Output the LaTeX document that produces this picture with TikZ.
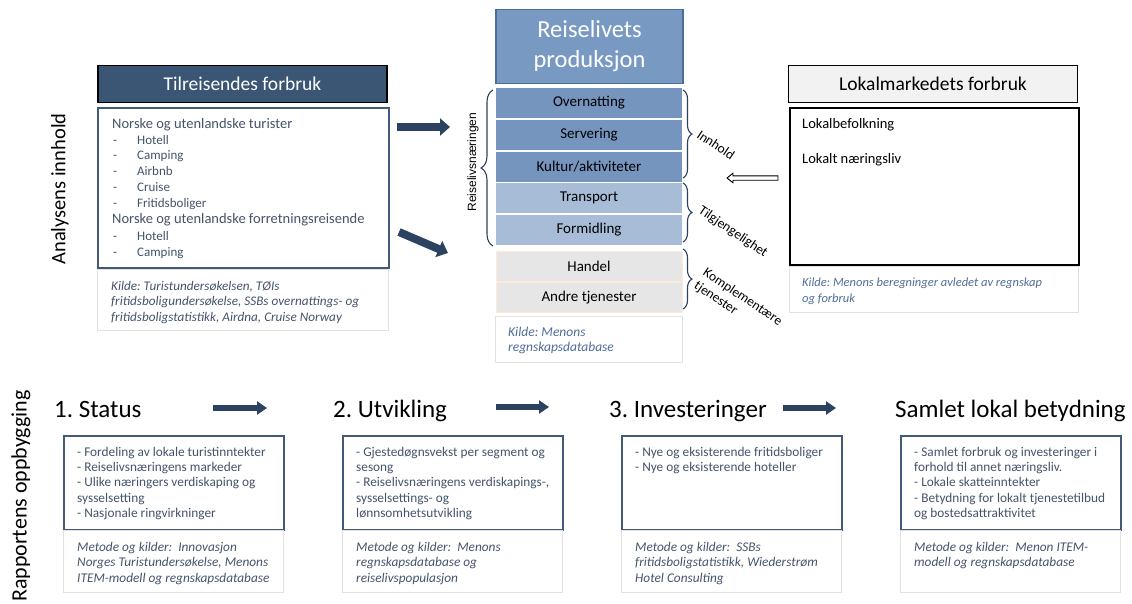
\documentclass[tikz,border=0pt]{standalone}
\usepackage{fontspec}
\setmainfont{Carlito}
\newfontfamily\arialfont{Liberation Sans}
\usetikzlibrary{arrows.meta,decorations.pathreplacing}
\frenchspacing

\definecolor{hdrdark}{HTML}{3B5675}
\definecolor{boxblue}{HTML}{42597A}
\definecolor{txtgray}{HTML}{44546A}
\definecolor{navy}{HTML}{2B4260}
\definecolor{prodhdr}{HTML}{789AC2}
\definecolor{prodline}{HTML}{4C6D96}
\definecolor{rowdark}{HTML}{7595BF}
\definecolor{rowlight}{HTML}{A6BCD7}
\definecolor{rowgray}{HTML}{E6E6E6}
\definecolor{rowgrayline}{HTML}{FCEADB}
\definecolor{kildeline}{HTML}{E2E2E2}
\definecolor{kildeblue}{HTML}{4E6D98}
\definecolor{lokalhdr}{HTML}{F2F2F2}

\newcommand{\fsz}[2]{\fontsize{#1}{#2}\selectfont}

\begin{document}
\begin{tikzpicture}[x=1pt,y=-1pt,
  hdr/.style={draw=black, line width=1.8pt, minimum width=289pt, minimum height=37pt, inner sep=0, font=\fsz{19.5}{23}},
  mainbox/.style={draw=boxblue, line width=1.5pt, fill=white, anchor=north west, inner sep=0},
  kildebox/.style={draw=kildeline, line width=0.8pt, anchor=north west, inner sep=0},
  prodrow/.style={minimum width=186pt, minimum height=30pt, inner sep=0, font=\fsz{15}{18}},
  txt/.style={anchor=base west, inner sep=0, text=txtgray},
  blocktxt/.style={anchor=north west, inner sep=0, align=left, text=txtgray},
  bighdr/.style={anchor=base west, inner sep=0, font=\fsz{25}{29}},
  pil/.style={draw=navy, line width=8pt, -{Triangle[length=10pt,width=17pt]}},
  smallpil/.style={draw=navy, line width=6pt, -{Triangle[length=10pt,width=13pt]}},
  klamme/.style={decorate, decoration={brace, amplitude=#1}, draw=navy, line width=1.1pt},
  bracelbl/.style={rotate=-34, inner sep=0, font=\fsz{13.5}{16}}]
\useasboundingbox (0,0) rectangle (1132,603);

% side titles
\node[rotate=90, font=\fsz{20.5}{24}] (analyse) at (60,189) {Analysens innhold};
\node[rotate=90, font=\fsz{22}{26}] (rapport) at (21,496) {Rapportens oppbygging};

% tilreisendes forbruk
\node[hdr, fill=hdrdark, text=white] (tilhdr) at (242.5,84) {Tilreisendes forbruk};
\node[mainbox, minimum width=291pt, minimum height=160pt] (tilbox) at (97,107) {};
\node[txt, font=\fsz{14.5}{17}] (turist) at (112,128.5) {Norske og utenlandske turister};
\foreach \lbl [count=\i] in {Hotell,Camping,Airbnb,Cruise,Fritidsboliger}
  \node[txt, font=\fsz{13}{15}] at (113,{128.5+15.7*\i}) {\makebox[24pt][l]{-}\lbl};
\node[txt, font=\fsz{14.5}{17}] (forretning) at (112,223.5) {Norske og utenlandske forretningsreisende};
\foreach \lbl [count=\i] in {Hotell,Camping}
  \node[txt, font=\fsz{13}{15}] at (113,{224.5+16*\i}) {\makebox[24pt][l]{-}\lbl};
\node[kildebox, minimum width=291pt, minimum height=61pt] (tilkilde) at (97,269) {};
\node[blocktxt, font=\itshape\fsz{13.2}{15.5}] at (111,280.8)
  {Kilde: Turistundersøkelsen, TØIs\\fritidsboligundersøkelse, SSBs overnattings- og\\fritidsboligstatistikk, Airdna, Cruise Norway};

% reiselivets produksjon
\node[draw=prodline, line width=1.2pt, fill=prodhdr, text=white, minimum width=187pt, minimum height=74pt,
  align=center, font=\fsz{24.5}{30}] (prodhdr) at (589.5,46.5) {Reiselivets\\produksjon};
\foreach \navn/\y/\farge [count=\i] in {Overnatting/103/rowdark, Servering/135/rowdark,
  {Kultur/aktiviteter}/166.5/rowdark, Transport/198/rowlight, Formidling/229.5/rowlight}
  \node[prodrow, fill=\farge] (rad\i) at (589,\y) {\navn};
\node[prodrow, fill=rowgray, draw=rowgrayline, line width=0.8pt] (handel) at (589,266.5) {Handel};
\node[prodrow, fill=rowgray, draw=rowgrayline, line width=0.8pt] (andre) at (589,297.5) {Andre tjenester};
\node[kildebox, minimum width=187pt, minimum height=46pt] (prodkilde) at (495,316) {};
\node[blocktxt, text=kildeblue, font=\itshape\fsz{13.5}{15.5}] at (508,326.5) {Kilde: Menons\\regnskapsdatabase};

% klammer
\draw[klamme=12pt] (493,246) -- (493,90);
\node[rotate=90, inner sep=0, font=\arialfont\fsz{12}{14}] (naeringlbl) at (473,162) {Reiselivsnæringen};
\draw[klamme=9pt] (683,90) -- (683,178);
\draw[klamme=9pt] (683,183) -- (683,242);
\draw[klamme=9pt] (683,249) -- (683,309);
\node[bracelbl] (innhold) at (716,145) {Innhold};
\node[bracelbl] (tilgj) at (733,232) {Tilgjengelighet};
\node[bracelbl, align=left] (kompl) at (738,304) {Komplementære\\tjenester};

% lokalmarkedets forbruk
\node[hdr, fill=lokalhdr] (lokhdr) at (933,84) {Lokalmarkedets forbruk};
\node[mainbox, draw=black, minimum width=289pt, minimum height=157pt] (lokbox) at (789,107) {};
\node[txt, text=black, font=\fsz{14.5}{17}] (lokbef) at (802,128) {Lokalbefolkning};
\node[txt, text=black, font=\fsz{14.5}{17}] (lokner) at (802,163.5) {Lokalt næringsliv};
\node[kildebox, minimum width=289pt, minimum height=46pt] (lokkilde) at (789,266) {};
\node[blocktxt, text=kildeblue, font=\itshape\fsz{12.5}{16}] at (802,277.2)
  {Kilde: Menons beregninger avledet av regnskap\\og forbruk};

% piler
\coordinate (p1a) at (397,127);
\coordinate (p1b) at (450,127);
\coordinate (p2a) at (399,232);
\coordinate (p2b) at (448,253);
\draw[pil] (p1a) -- (p1b);
\draw[pil] (p2a) -- (p2b);
\draw[line width=0.9pt, fill=white] (778,175.8) -- (733,175.8) -- (733,173.2) -- (727,178)
  -- (733,182.8) -- (733,180.2) -- (778,180.2) -- cycle;

% rapportens oppbygging
\node[bighdr] (status) at (54,417) {1. Status};
\node[bighdr] (utvikling) at (333,417) {2. Utvikling};
\node[bighdr] (invest) at (609,417) {3. Investeringer};
\node[bighdr] (samlet) at (895,417) {Samlet lokal betydning};
\coordinate (s1a) at (213,408);
\coordinate (s1b) at (267,408);
\coordinate (s2a) at (496,407);
\coordinate (s2b) at (549,407);
\coordinate (s3a) at (783,408);
\coordinate (s3b) at (836,408);
\draw[smallpil] (s1a) -- (s1b);
\draw[smallpil] (s2a) -- (s2b);
\draw[smallpil] (s3a) -- (s3b);

\foreach \x [count=\i] in {63,342,621,900} {
  \node[mainbox, minimum width=220pt, minimum height=94pt] (boks\i) at (\x,435) {};
  \node[kildebox, minimum width=220pt, minimum height=62pt] (kilde\i) at (\x,530) {};
}
\node[blocktxt, font=\fsz{13.3}{15.4}] at (77,446.7)
  {- Fordeling av lokale turistinntekter\\- Reiselivsnæringens markeder\\- Ulike næringers verdiskaping og\\sysselsetting\\- Nasjonale ringvirkninger};
\node[blocktxt, font=\fsz{13.3}{15.4}] at (356,446.7)
  {- Gjestedøgnsvekst per segment og\\sesong\\- Reiselivsnæringens verdiskapings-,\\sysselsettings- og\\lønnsomhetsutvikling};
\node[blocktxt, font=\fsz{13.3}{15.4}] at (635,446.7)
  {- Nye og eksisterende fritidsboliger\\- Nye og eksisterende hoteller};
\node[blocktxt, font=\fsz{13.3}{15.4}] at (914,446.7)
  {- Samlet forbruk og investeringer i\\forhold til annet næringsliv.\\- Lokale skatteinntekter\\- Betydning for lokalt tjenestetilbud\\og bostedsattraktivitet};
\node[blocktxt, font=\itshape\fsz{13.3}{15.5}] at (77,541.7)
  {Metode og kilder:\ \ Innovasjon\\Norges Turistundersøkelse, Menons\\ITEM-modell og regnskapsdatabase};
\node[blocktxt, font=\itshape\fsz{13.3}{15.5}] at (356,541.7)
  {Metode og kilder:\ \ Menons\\regnskapsdatabase og\\reiselivspopulasjon};
\node[blocktxt, font=\itshape\fsz{13.3}{15.5}] at (635,541.7)
  {Metode og kilder:\ \ SSBs\\fritidsboligstatistikk, Wiederstrøm\\Hotel Consulting};
\node[blocktxt, font=\itshape\fsz{13.3}{15.5}] at (914,541.7)
  {Metode og kilder:\ \ Menon ITEM-\\modell og regnskapsdatabase};
\end{tikzpicture}
\end{document}
